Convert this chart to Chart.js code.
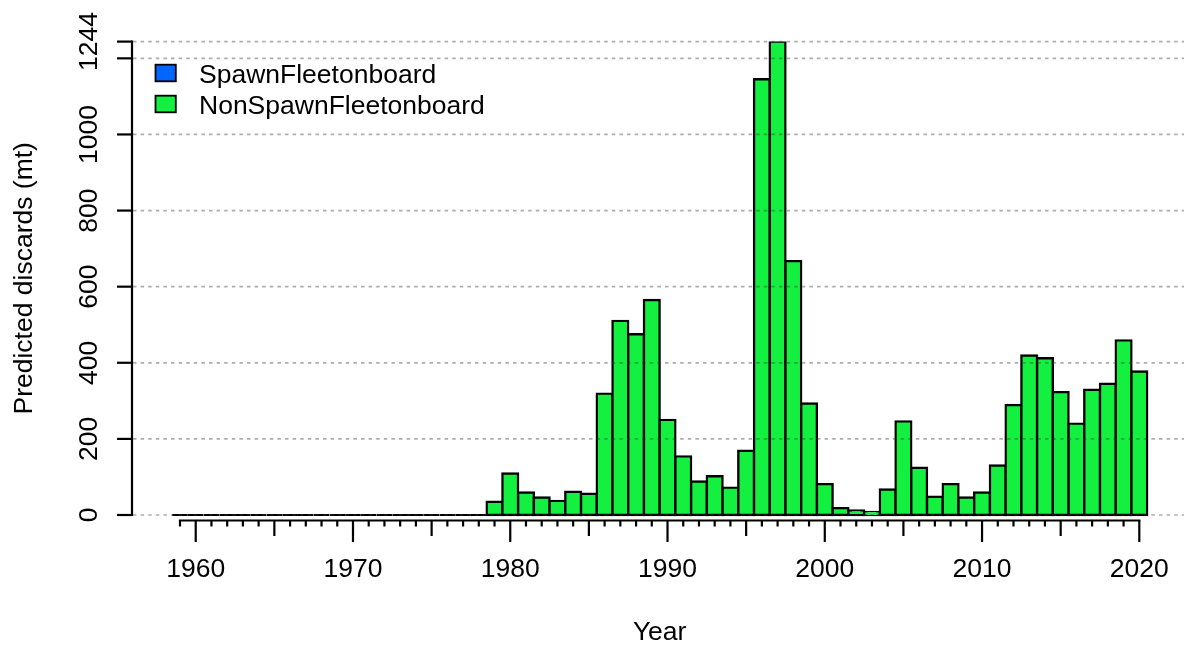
<!DOCTYPE html>
<html>
<head>
<meta charset="utf-8">
<script src="https://cdn.jsdelivr.net/npm/chart.js@4.4.0/dist/chart.umd.min.js"></script>
<style>
  html, body { margin: 0; padding: 0; background: #ffffff; }
  canvas { display: block; }
</style>
</head>
<body>
<canvas id="discards" width="1184" height="645"></canvas>
<script>
// Predicted discards (mt) by year and fleet
const years = [
  1959, 1960, 1961, 1962, 1963, 1964, 1965, 1966, 1967, 1968,
  1969, 1970, 1971, 1972, 1973, 1974, 1975, 1976, 1977, 1978,
  1979, 1980, 1981, 1982, 1983, 1984, 1985, 1986, 1987, 1988,
  1989, 1990, 1991, 1992, 1993, 1994, 1995, 1996, 1997, 1998,
  1999, 2000, 2001, 2002, 2003, 2004, 2005, 2006, 2007, 2008,
  2009, 2010, 2011, 2012, 2013, 2014, 2015, 2016, 2017, 2018,
  2019, 2020
];

const spawnFleetOnboard = [
  0, 0, 0, 0, 0, 0, 0, 0, 0, 0,
  0, 0, 0, 0, 0, 0, 0, 0, 0, 0,
  0, 0, 0, 0, 0, 0, 0, 0, 0, 0,
  0, 0, 0, 0, 0, 0, 0, 0, 0, 0,
  0, 0, 0, 0, 0, 0, 0, 0, 0, 0,
  0, 0, 0, 0, 0, 0, 0, 0, 0, 0,
  0, 0
];

const nonSpawnFleetOnboard = [
  0, 0, 0, 0, 0, 0, 0, 0, 0, 0,
  0, 0, 0, 0, 0, 0, 0, 0, 0, 0,
  35, 109, 59, 46, 37, 61, 56, 319, 510, 475,
  565, 250, 154, 88, 102, 72, 169, 1145, 1244, 667,
  293, 81, 18, 12, 8, 67, 246, 124, 48, 81,
  46, 59, 130, 289, 419, 412, 323, 240, 329, 345,
  459, 377
];

const seriesNames = ['SpawnFleetonboard', 'NonSpawnFleetonboard'];
const seriesColors = ['#0066FF', '#13F040'];

// y ticks: the 1200 label is left out because it would collide with 1244
const yTickValues = [0, 200, 400, 600, 800, 1000, 1200, 1244];
const yTickLabels = ['0', '200', '400', '600', '800', '1000', '', '1244'];
const xLabelYears = [1960, 1970, 1980, 1990, 2000, 2010, 2020];

const yTitle = 'Predicted discards (mt)';
const xTitle = 'Year';

const FONT = '26.5px "Liberation Sans", Arial, Helvetica, sans-serif';
const BAR_EDGE = 2.4;

function pairs(values) {
  return years.map((yr, i) => ({ x: yr, y: values[i] }));
}

// R-style axes, dotted reference lines and legend box
const baseGraphics = {
  id: 'baseGraphics',
  afterDatasetsDraw(chart) {
    const ctx = chart.ctx;
    const xs = chart.scales.x;
    const ys = chart.scales.y;
    const area = chart.chartArea;
    const axisX = area.left;
    const zeroY = ys.getPixelForValue(0);

    ctx.save();

    // dotted horizontal reference lines across the plot
    ctx.strokeStyle = 'rgba(60,60,60,0.42)';
    ctx.lineWidth = 1.7;
    ctx.setLineDash([3.5, 4.1]);
    yTickValues.forEach(v => {
      const y = ys.getPixelForValue(v);
      ctx.beginPath();
      ctx.moveTo(axisX + 1, y);
      ctx.lineTo(area.right, y);
      ctx.stroke();
    });
    ctx.setLineDash([]);

    ctx.strokeStyle = '#000';
    ctx.fillStyle = '#000';
    ctx.lineWidth = 2.2;
    ctx.lineCap = 'butt';

    // y axis line and ticks
    const yTop = ys.getPixelForValue(yTickValues[yTickValues.length - 1]);
    ctx.beginPath();
    ctx.moveTo(axisX, zeroY + 1.1);
    ctx.lineTo(axisX, yTop - 1.1);
    ctx.stroke();
    yTickValues.forEach(v => {
      const y = ys.getPixelForValue(v);
      ctx.beginPath();
      ctx.moveTo(axisX, y);
      ctx.lineTo(axisX - 15, y);
      ctx.stroke();
    });

    // y tick labels, rotated
    ctx.font = FONT;
    ctx.textAlign = 'center';
    ctx.textBaseline = 'alphabetic';
    yTickValues.forEach((v, i) => {
      if (!yTickLabels[i]) return;
      const y = ys.getPixelForValue(v);
      ctx.save();
      ctx.translate(97, y);
      ctx.rotate(-Math.PI / 2);
      ctx.fillText(yTickLabels[i], 0, 0);
      ctx.restore();
    });

    // x axis line, one tick per year
    const xAxisY = zeroY + 5.5;
    const x0 = xs.getPixelForValue(years[0]);
    const x1 = xs.getPixelForValue(years[years.length - 1]);
    ctx.beginPath();
    ctx.moveTo(x0 - 1.1, xAxisY);
    ctx.lineTo(x1 + 1.1, xAxisY);
    ctx.stroke();
    years.forEach(yr => {
      const x = xs.getPixelForValue(yr);
      const len = yr % 10 === 0 ? 21.5 : (yr % 5 === 0 ? 15.5 : 6);
      ctx.beginPath();
      ctx.moveTo(x, xAxisY);
      ctx.lineTo(x, xAxisY + len);
      ctx.stroke();
    });

    // x tick labels
    xLabelYears.forEach(yr => {
      ctx.fillText(String(yr), xs.getPixelForValue(yr), 577);
    });

    // axis titles
    ctx.fillText(xTitle, (x0 + x1) / 2, 640);
    ctx.save();
    ctx.translate(31.5, (zeroY + yTop) / 2);
    ctx.rotate(-Math.PI / 2);
    ctx.fillText(yTitle, 0, 0);
    ctx.restore();

    // legend
    const rows = [73, 104];
    chart.data.datasets.forEach((ds, i) => {
      const cy = rows[i];
      ctx.fillStyle = ds.backgroundColor;
      ctx.fillRect(155.5, cy - 8.3, 20.3, 16.6);
      ctx.lineWidth = 1.8;
      ctx.strokeStyle = '#000';
      ctx.strokeRect(155.5, cy - 8.3, 20.3, 16.6);
      ctx.fillStyle = '#000';
      ctx.textAlign = 'left';
      ctx.fillText(ds.label, 199, cy + 9.6);
    });

    ctx.restore();
  }
};

new Chart(document.getElementById('discards'), {
  type: 'bar',
  data: {
    datasets: [
      {
        label: seriesNames[0],
        data: pairs(spawnFleetOnboard),
        backgroundColor: seriesColors[0],
        borderColor: '#000',
        borderWidth: 0,
        borderSkipped: false,
        inflateAmount: 0,
        barPercentage: 1,
        categoryPercentage: 1
      },
      {
        label: seriesNames[1],
        data: pairs(nonSpawnFleetOnboard),
        backgroundColor: seriesColors[1],
        borderColor: '#000',
        borderWidth: BAR_EDGE,
        borderSkipped: false,
        minBarLength: 2.2,
        inflateAmount: c => (c.raw && c.raw.y === 0 ? 0 : BAR_EDGE / 2),
        barPercentage: 1,
        categoryPercentage: 1
      }
    ]
  },
  options: {
    responsive: false,
    animation: false,
    devicePixelRatio: 1,
    layout: { padding: { left: 132, right: 0, top: 41.6, bottom: 115 } },
    plugins: {
      legend: { display: false },
      tooltip: { enabled: false },
      title: { display: false }
    },
    scales: {
      x: {
        type: 'linear',
        display: false,
        stacked: true,
        offset: false,
        min: 1955.948,
        max: 2022.842
      },
      y: {
        type: 'linear',
        display: false,
        stacked: true,
        min: -39.42,
        max: 1244
      }
    }
  },
  plugins: [baseGraphics]
});
</script>
</body>
</html>
